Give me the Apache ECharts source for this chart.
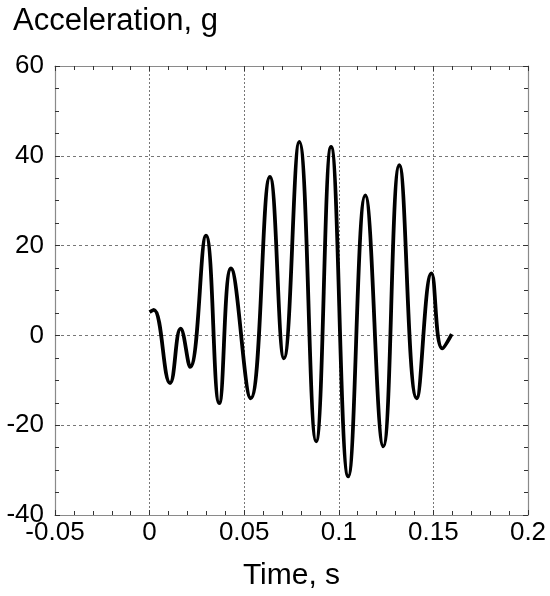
<!DOCTYPE html>
<html>
<head>
<meta charset="utf-8">
<script src="https://cdn.jsdelivr.net/npm/echarts@6/dist/echarts.min.js"></script>
<style>
  html, body { margin: 0; padding: 0; background: #fff; }
  #chart { width: 550px; height: 596px; }
</style>
</head>
<body>
<div id="chart"></div>
<script>
// Acceleration pulse record: turning points of the trace (time in s, acceleration in g)
const timeS = [0, 0.0022, 0.0108, 0.0164, 0.0214, 0.0298, 0.0368, 0.0430, 0.0534, 0.0636,
               0.0710, 0.0791, 0.0880, 0.0959, 0.1050, 0.1140, 0.1235, 0.1320, 0.1412, 0.1490,
               0.1547, 0.1597];
const accelG = [5.2, 5.7, -10.6, 1.5, -7.0, 22.2, -15.1, 14.9, -14.0, 35.3,
                -5.1, 43.1, -23.6, 42.0, -31.4, 31.2, -24.7, 37.9, -14.0, 13.8,
                -2.9, 0.3];

const xTicks = { min: -0.05, max: 0.2, step: 0.05 };
const yTicks = { min: -40, max: 60, step: 20 };

const points = timeS.map((t, i) => [t, accelG[i]]);

const font = '"Liberation Sans", Arial, Helvetica, sans-serif';
const frameColor = '#8a8a8a';
const tickColor = '#333';

function baseX(extra) {
  return Object.assign({
    type: 'value',
    min: xTicks.min, max: xTicks.max, interval: xTicks.step,
    axisLine: { show: true, onZero: false, lineStyle: { color: frameColor, width: 1.2 } },
    axisTick: { show: true, inside: true, length: 5, lineStyle: { color: tickColor, width: 1 } },
    minorTick: { show: true, splitNumber: 5, length: 4, lineStyle: { color: tickColor, width: 1 } },
    splitLine: { show: false },
    axisLabel: { show: false }
  }, extra);
}
function baseY(extra) {
  return Object.assign({
    type: 'value',
    min: yTicks.min, max: yTicks.max, interval: yTicks.step,
    axisLine: { show: true, onZero: false, lineStyle: { color: frameColor, width: 1.2 } },
    axisTick: { show: true, inside: true, length: 5, lineStyle: { color: tickColor, width: 1 } },
    minorTick: { show: true, splitNumber: 4, length: 4, lineStyle: { color: tickColor, width: 1 } },
    splitLine: { show: false },
    axisLabel: { show: false }
  }, extra);
}

const chart = echarts.init(document.getElementById('chart'), null, { renderer: 'canvas' });
chart.setOption({
  animation: false,
  backgroundColor: '#fff',
  title: {
    text: 'Acceleration, g',
    left: 8, top: 1,
    textStyle: { fontFamily: font, fontSize: 31, fontWeight: 'normal', color: '#000' }
  },
  grid: { left: 55, right: 22, top: 66, bottom: 81 },
  xAxis: [
    baseX({
      position: 'bottom',
      name: 'Time, s',
      nameLocation: 'middle',
      nameGap: 46,
      nameTextStyle: { fontFamily: font, fontSize: 30, color: '#000' },
      axisLabel: { show: true, margin: 5, fontFamily: font, fontSize: 26, color: '#000' },
      splitLine: { show: true, lineStyle: { color: '#777', width: 1, type: [2, 2] } }
    }),
    baseX({ position: 'top' })
  ],
  yAxis: [
    baseY({
      position: 'left',
      axisLabel: { show: true, margin: 11, fontFamily: font, fontSize: 26, color: '#000' },
      splitLine: { show: true, lineStyle: { color: '#777', width: 1, type: [3, 3] } }
    }),
    baseY({ position: 'right' })
  ],
  series: [{
    type: 'line',
    xAxisIndex: 0,
    yAxisIndex: 0,
    data: points,
    smooth: 0.45,
    showSymbol: false,
    lineStyle: { color: '#000', width: 3.8 }
  }]
});
</script>
</body>
</html>
